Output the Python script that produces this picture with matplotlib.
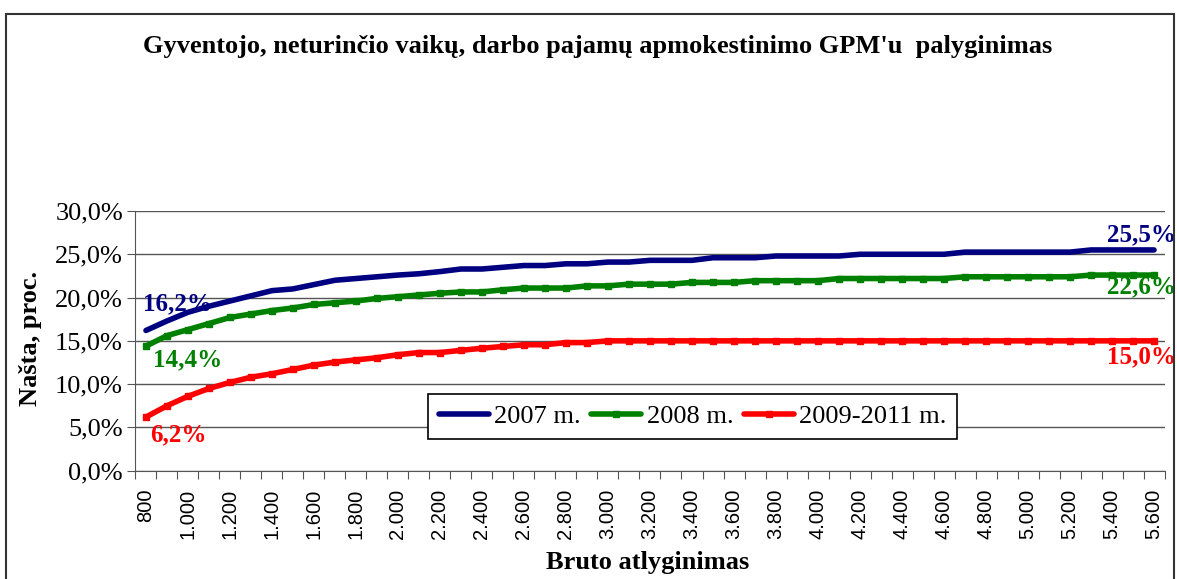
import numpy as np
import matplotlib
matplotlib.use('Agg')
import matplotlib.pyplot as plt
from matplotlib.patches import Rectangle

plt.rcParams['font.family'] = ['Liberation Serif', 'DejaVu Serif']

# bruto atlyginimas, Lt (kas 100)
wages = list(range(800, 5700, 100))

# nasta, proc. (nuskaityta is grafiko)
tax_2007 = [16.2, 17.3, 18.3, 19.0, 19.6, 20.2, 20.8, 21.0, 21.5, 22.0,
            22.2, 22.4, 22.6, 22.75, 23.0, 23.3, 23.3, 23.5, 23.7, 23.7,
            23.9, 23.9, 24.1, 24.1, 24.3, 24.3, 24.3, 24.6, 24.6, 24.6,
            24.8, 24.8, 24.8, 24.8, 25.0, 25.0, 25.0, 25.0, 25.0, 25.25,
            25.25, 25.25, 25.25, 25.25, 25.25, 25.5, 25.5, 25.5, 25.5]
tax_2008 = [14.4, 15.6, 16.3, 17.0, 17.7, 18.1, 18.5, 18.8, 19.2, 19.4,
            19.6, 19.9, 20.1, 20.3, 20.5, 20.65, 20.65, 20.9, 21.1, 21.1,
            21.1, 21.35, 21.35, 21.55, 21.55, 21.55, 21.75, 21.75, 21.75, 21.95,
            21.95, 21.95, 21.95, 22.2, 22.2, 22.2, 22.2, 22.2, 22.2, 22.4,
            22.4, 22.4, 22.4, 22.4, 22.4, 22.6, 22.6, 22.6, 22.6]
tax_2009 = [6.2, 7.5, 8.6, 9.5, 10.2, 10.8, 11.2, 11.7, 12.2, 12.55,
            12.8, 13.05, 13.4, 13.65, 13.65, 13.9, 14.15, 14.35, 14.55, 14.55,
            14.8, 14.8, 15.0, 15.0, 15.0, 15.0, 15.0, 15.0, 15.0, 15.0,
            15.0, 15.0, 15.0, 15.0, 15.0, 15.0, 15.0, 15.0, 15.0, 15.0,
            15.0, 15.0, 15.0, 15.0, 15.0, 15.0, 15.0, 15.0, 15.0]

series_names = ['2007 m.', '2008 m.', '2009-2011 m.']
colors = ['#000080', '#008000', '#FF0000']


def fmt_lt(v):
    return '{:,}'.format(v).replace(',', '.')


def fmt_pct(v):
    return '{:.1f}%'.format(v).replace('.', ',')


fig = plt.figure(figsize=(11.77, 5.79), dpi=100)
ax = fig.add_axes([0.1151, 0.187, 0.8743, 0.4486])

# outer chart frame
fig.patches.append(Rectangle((6 / 1177, -0.05), 1168 / 1177, 1.05 - 14 / 579,
                             transform=fig.transFigure, fill=False,
                             edgecolor='#333333', linewidth=1.5))

x = np.arange(len(wages))
ax.plot(x, tax_2007, color=colors[0], lw=4, solid_capstyle='round',
        label=series_names[0], zorder=5)
ax.plot(x, tax_2008, color=colors[1], lw=4, marker='s', ms=5,
        solid_capstyle='round', label=series_names[1], zorder=4)
ax.plot(x, tax_2009, color=colors[2], lw=4, marker='s', ms=5,
        solid_capstyle='round', label=series_names[2], zorder=4)

ax.set_xlim(-0.5, len(wages) - 0.5)
ax.set_ylim(0, 30)
ax.set_yticks(np.arange(0, 31, 5))
ax.set_yticklabels([fmt_pct(v) for v in np.arange(0, 31, 5)], fontsize=19)
ax.yaxis.grid(True, color='#555555', lw=1)
ax.set_axisbelow(True)

# ticks between categories, labels on every second category
ax.set_xticks(np.arange(-0.5, len(wages), 1))
ax.set_xticklabels([])
ax.set_xticks(x[::2], minor=True)
ax.set_xticklabels([fmt_lt(w) for w in wages[::2]], minor=True,
                   rotation=90, fontsize=14.5, family='Liberation Sans')
ax.tick_params(axis='x', which='major', length=6, color='#555555', direction='out')
ax.tick_params(axis='x', which='minor', length=0, pad=13)
ax.tick_params(axis='y', length=6, color='#555555', pad=3)

for s in ['top', 'right']:
    ax.spines[s].set_visible(False)
for s in ['left', 'bottom']:
    ax.spines[s].set_color('#555555')

# value labels at both ends
ends = [(tax_2007, (32, -27), (-13, -15)),
        (tax_2008, (42, 14), (-13, 12)),
        (tax_2009, (32, 18), (-13, 16))]
for (vals, off0, off1), c in zip(ends, colors):
    for i, off in [(0, off0), (len(vals) - 1, off1)]:
        ax.annotate(fmt_pct(vals[i]), xy=(i, vals[i]),
                    xytext=(off[0] * 0.72, -off[1] * 0.72),
                    textcoords='offset points', ha='center', va='center',
                    fontsize=18, fontweight='bold', color=c,
                    annotation_clip=False, zorder=6)

fig.text(598 / 1177, 1 - 47 / 579,
         "Gyventojo, neturinčio vaikų, darbo pajamų apmokestinimo GPM'u  palyginimas",
         ha='center', va='center', fontsize=19, fontweight='bold')
fig.text(30 / 1177, 1 - 339 / 579, 'Našta, proc.', rotation=90,
         ha='center', va='center', fontsize=19, fontweight='bold')
fig.text(648 / 1177, 1 - 562 / 579, 'Bruto atlyginimas',
         ha='center', va='center', fontsize=19, fontweight='bold')

leg = fig.legend(loc='center', bbox_to_anchor=(692.5 / 1177, 1 - 416.5 / 579),
                 ncol=3, fontsize=19, frameon=True, fancybox=False,
                 edgecolor='black', framealpha=1, handlelength=1.9,
                 handletextpad=0.2, columnspacing=0.4, borderpad=0.4,
                 borderaxespad=0)
leg.get_frame().set_linewidth(1.2)

fig.savefig('out.png', dpi=100)
